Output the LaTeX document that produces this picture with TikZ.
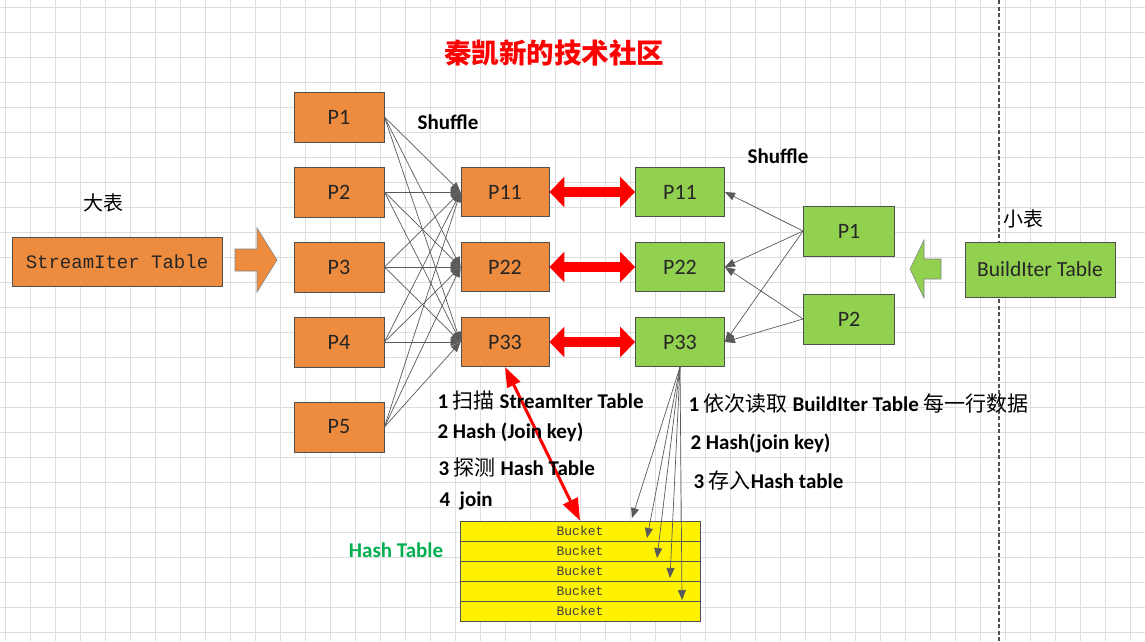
\documentclass[tikz,border=0pt]{standalone}
\usepackage{fontspec}
\setmainfont{Carlito}
\setmonofont{Liberation Mono}
\newfontfamily\cjk{Noto Sans CJK SC}
\newcommand\zhtxt[1]{{\cjk\mdseries #1}}
\usetikzlibrary{arrows.meta,calc}
\definecolor{orangefill}{RGB}{237,139,62}
\definecolor{greenfill}{RGB}{146,208,80}
\definecolor{boxline}{RGB}{80,80,80}
\definecolor{gridc}{RGB}{222,222,222}
\definecolor{linec}{RGB}{90,90,90}
\definecolor{htgreen}{RGB}{0,176,80}
\begin{document}
\begin{tikzpicture}[x=1pt,y=-1pt,
  base/.style={draw=boxline, line width=0.9pt, inner sep=0pt, minimum width=90pt, minimum height=50pt,
    font=\fontsize{22}{24}\selectfont, text=black!85},
  obox/.style={base, fill=orangefill},
  gbox/.style={base, fill=greenfill},
  bucket/.style={draw=boxline, line width=0.8pt, fill=yellow, inner sep=0pt, minimum width=240pt, minimum height=20pt,
    font=\ttfamily\fontsize{13}{14}\selectfont, text=black!75},
  shuf/.style={draw=linec, line width=0.7pt, -{Triangle[length=10pt,width=8pt]}},
  redarr/.style={draw=red, line width=10pt, {Triangle[length=15pt,width=30pt]}-{Triangle[length=15pt,width=30pt]}},
  lbl/.style={font=\bfseries\fontsize{21}{23}\selectfont},
  steptxt/.style={anchor=west, font=\bfseries\fontsize{21}{23}\selectfont},
  zhlbl/.style={font=\cjk\fontsize{20}{22}\selectfont}
]
\useasboundingbox (0,0) rectangle (1145,641);
\fill[white] (0,0) rectangle (1145,641);
\foreach \x in {5,30,...,1130} \draw[gridc, line width=0.8pt] (\x,0) -- (\x,641);
\foreach \y in {7,32,...,632} \draw[gridc, line width=0.8pt] (0,\y) -- (1145,\y);
\draw[boxline, line width=1.3pt, dash pattern=on 4pt off 2.5pt] (999,0) -- (999,641);

% title
\node[font=\cjk\bfseries\fontsize{27.5}{30}\selectfont, text=red] (title) at (554,53) {秦凯新的技术社区};

% left big table
\node[zhlbl] (big) at (103,203) {大表};
\node[obox, minimum width=210pt, minimum height=49pt, font=\ttfamily\fontsize{19}{20}\selectfont] (stream) at (117,261.5) {StreamIter Table};
\filldraw[fill=orangefill, draw=boxline!70, line width=0.6pt]
  (235,249) -- (257,249) -- (257,228) -- (277,260) -- (257,292) -- (257,271) -- (235,271) -- cycle;

% left partitions
\node[obox] (s1) at (339,117) {P1};
\node[obox] (s2) at (339,192) {P2};
\node[obox] (s3) at (339,267) {P3};
\node[obox] (s4) at (339,342) {P4};
\node[obox] (s5) at (339,427) {P5};

% middle orange
\node[obox, minimum width=88pt, minimum height=49pt] (o11) at (505,192) {P11};
\node[obox, minimum width=88pt, minimum height=49pt] (o22) at (505,267) {P22};
\node[obox, minimum width=88pt, minimum height=49pt] (o33) at (505,342) {P33};

% middle green
\node[gbox, minimum width=89pt, minimum height=49pt] (g11) at (680,192) {P11};
\node[gbox, minimum width=89pt, minimum height=49pt] (g22) at (680,267) {P22};
\node[gbox, minimum width=89pt, minimum height=49pt] (g33) at (680,342) {P33};

% right partitions
\node[gbox, minimum width=91pt] (r1) at (849,231) {P1};
\node[gbox, minimum width=91pt] (r2) at (849,319) {P2};

% small table
\node[zhlbl] (small) at (1023,219) {小表};
\node[gbox, minimum width=150pt, minimum height=55pt, font=\fontsize{21.5}{23}\selectfont] (build) at (1040,269.5) {BuildIter Table};
\filldraw[fill=greenfill, draw=boxline!70, line width=0.6pt]
  (941,259) -- (924,259) -- (924,240) -- (910,269) -- (924,298) -- (924,279) -- (941,279) -- cycle;

% labels
\node[lbl] (sh1) at (448,122) {Shuffle};
\node[lbl] (sh2) at (778,156) {Shuffle};

% left shuffle
\foreach \s in {s1,s2,s3,s4,s5}
  \foreach \t in {o11,o22,o33}
    \draw[shuf] (\s.east) -- (\t.west);

% right shuffle
\draw[shuf] (r1.west) -- (g11.east);
\draw[shuf] (r1.west) -- (g22.east);
\draw[shuf] (r1.west) -- (g33.east);
\draw[shuf] (r2.west) -- (g22.east);
\draw[shuf] (r2.west) -- (g33.east);

% red double arrows
\draw[redarr] (o11.east) -- (g11.west);
\draw[redarr] (o22.east) -- (g22.west);
\draw[redarr] (o33.east) -- (g33.west);

% buckets
\node[bucket] (b1) at (580,531) {Bucket};
\node[bucket] (b2) at (580,551) {Bucket};
\node[bucket] (b3) at (580,571) {Bucket};
\node[bucket] (b4) at (580,591) {Bucket};
\node[bucket] (b5) at (580,611) {Bucket};
\node[font=\bfseries\fontsize{21}{23}\selectfont, text=htgreen] (ht) at (396,550) {Hash Table};

% probe arrow
\draw[red, line width=3pt, {Triangle[length=20pt,width=14pt]}-{Triangle[length=22pt,width=16pt]}] (o33.south) -- (b1.north);

% build arrows
\coordinate (h1) at (632,518);
\coordinate (h2) at (647,538);
\coordinate (h3) at (657,558);
\coordinate (h4) at (670,578);
\coordinate (h5) at (682,600);
\foreach \h in {h1,h2,h3,h4,h5}
  \draw[shuf] (g33.south) -- (\h);

% steps left
\node[steptxt] (l1) at (434,400) {1 \zhtxt{扫描} StreamIter Table};
\node[steptxt] (l2) at (434,432) {2 Hash (Join key)};
\node[steptxt] (l3) at (435,467) {3 \zhtxt{探测} Hash Table};
\node[steptxt] (l4) at (436,501) {4\ \ join};

% steps right
\node[steptxt] (q1) at (685,403) {1 \zhtxt{依次读取} BuildIter Table \zhtxt{每一行数据}};
\node[steptxt] (q2) at (687,443) {2 Hash(join key)};
\node[steptxt] (q3) at (690,480) {3 \zhtxt{存入}Hash table};
\end{tikzpicture}
\end{document}
